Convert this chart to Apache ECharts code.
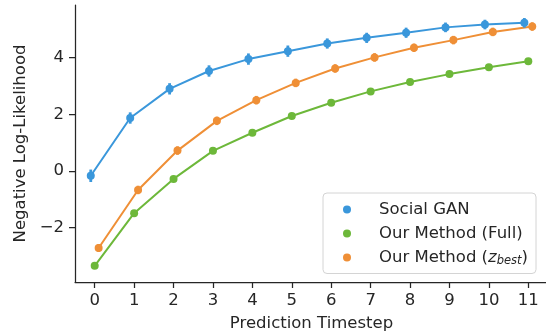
<!DOCTYPE html>
<html><head><meta charset="utf-8">
<script src="https://cdn.jsdelivr.net/npm/echarts@6/dist/echarts.min.js"></script>
<style>html,body{margin:0;padding:0;background:#fff}#c{width:546px;height:336px}</style>
</head><body><div id="c"></div>
<script>
const timesteps = [0,1,2,3,4,5,6,7,8,9,10,11];
const seriesNames = ['Social GAN', 'Our Method (Full)', 'Our Method (z_best)'];
const socialGAN = [-0.17, 1.87, 2.90, 3.53, 3.95, 4.23, 4.50, 4.70, 4.88, 5.07, 5.17, 5.23];
const socialGANErr = [0.22, 0.2, 0.2, 0.2, 0.2, 0.2, 0.18, 0.18, 0.18, 0.17, 0.17, 0.17];
const ourFull = [-3.35, -1.49, -0.28, 0.71, 1.35, 1.94, 2.41, 2.81, 3.14, 3.42, 3.66, 3.87];
const ourFullErr = [0.08, 0.08, 0.08, 0.08, 0.08, 0.08, 0.08, 0.08, 0.08, 0.08, 0.08, 0.08];
const ourBest = [-2.72, -0.67, 0.72, 1.77, 2.50, 3.11, 3.62, 4.01, 4.35, 4.62, 4.91, 5.10];
const ourBestErr = [0.14, 0.15, 0.15, 0.15, 0.15, 0.15, 0.15, 0.15, 0.15, 0.15, 0.15, 0.15];
const yTicks = [-2, 0, 2, 4];
const colors = ['#3a97db', '#6db83a', '#ef8f36'];
const dodge = [-0.1, 0, 0.1];

const all = [[socialGAN, socialGANErr], [ourFull, ourFullErr], [ourBest, ourBestErr]];
const txt = '#262626';
const FS = 16.5;
const fmtMinus = v => v < 0 ? '\u2212' + Math.abs(v) : String(v);

const series = [];
all.forEach(([vals, errs], k) => {
  series.push({
    name: seriesNames[k], type: 'line', z: 3,
    data: vals.map((v, i) => [timesteps[i] + dodge[k], v]),
    symbol: 'circle', symbolSize: 8,
    itemStyle: { color: colors[k] },
    lineStyle: { color: colors[k], width: 2 },
    emphasis: { disabled: true }
  });
  series.push({
    type: 'custom', z: 4, silent: true,
    data: vals.map((v, i) => [timesteps[i] + dodge[k], v - errs[i], v + errs[i]]),
    renderItem: (params, api) => {
      const a = api.coord([api.value(0), api.value(1)]);
      const b = api.coord([api.value(0), api.value(2)]);
      return { type: 'line', shape: { x1: a[0], y1: a[1], x2: b[0], y2: b[1] },
        style: { stroke: colors[k], lineWidth: 2.8 } };
    }
  });
});

const chart = echarts.init(document.getElementById('c'), null, { renderer: 'canvas' });
chart.setOption({
  animation: false,
  backgroundColor: '#fff',
  grid: { left: 75, right: -2, top: 5, bottom: 54, containLabel: false, outerBoundsMode: 'none' },
  xAxis: {
    type: 'value', min: -0.5, max: 11.5,
    name: 'Prediction Timestep', nameLocation: 'middle', nameGap: 33,
    nameTextStyle: { color: txt, fontSize: FS, fontFamily: 'DejaVu Sans' },
    axisLine: { show: true, onZero: false, lineStyle: { color: txt, width: 1.25 } },
    axisTick: { show: true, length: 6, lineStyle: { color: txt, width: 1.25 }, customValues: timesteps },
    axisLabel: { color: txt, fontSize: FS, fontFamily: 'DejaVu Sans', margin: 10, customValues: timesteps },
    splitLine: { show: false }
  },
  yAxis: {
    type: 'value', min: -3.92, max: 5.86,
    name: 'Negative Log-Likelihood', nameLocation: 'middle', nameGap: 46, nameRotate: 90,
    nameTextStyle: { color: txt, fontSize: FS, fontFamily: 'DejaVu Sans' },
    axisLine: { show: true, onZero: false, lineStyle: { color: txt, width: 1.25 } },
    axisTick: { show: true, length: 6, lineStyle: { color: txt, width: 1.25 }, customValues: yTicks },
    axisLabel: { color: txt, fontSize: FS, fontFamily: 'DejaVu Sans', margin: 11, customValues: yTicks, formatter: fmtMinus },
    splitLine: { show: false }
  },
  legend: {
    orient: 'vertical', left: 323, top: 193,
    data: seriesNames.map((n, k) => ({ name: n, icon: 'circle' })),
    itemWidth: 8, itemHeight: 8, itemGap: 7,
    padding: [8, 8, 6, 20],
    backgroundColor: '#fff', borderColor: '#d4d4d4', borderWidth: 1, borderRadius: 4,
    textStyle: {
      color: txt, fontSize: FS, fontFamily: 'DejaVu Sans', padding: [0, 0, 0, 23],
      rich: {
        a: { color: txt, fontSize: FS, fontFamily: 'DejaVu Sans' },
        i: { color: txt, fontSize: FS, fontFamily: 'DejaVu Sans', fontStyle: 'italic' },
        s: { color: txt, fontSize: 11.5, fontFamily: 'DejaVu Sans', fontStyle: 'italic', padding: [8, 0, 0, 0] }
      }
    },
    formatter: n => n === 'Our Method (z_best)' ? '{a|Our Method (}{i|z}{s|best}{a|)}' : n
  },
  series: series
});
</script></body></html>
